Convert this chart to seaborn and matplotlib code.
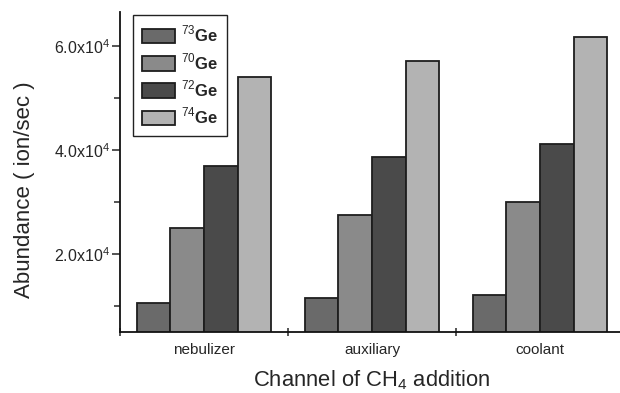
import matplotlib
matplotlib.use("Agg")
import matplotlib.pyplot as plt
import seaborn as sns
import pandas as pd
from matplotlib.ticker import FixedLocator, NullFormatter

channels = ["nebulizer", "auxiliary", "coolant"]
isotopes = ["73Ge", "70Ge", "72Ge", "74Ge"]
iso_labels = [r"$^{\mathregular{73}}\mathbf{Ge}$", r"$^{\mathregular{70}}\mathbf{Ge}$",
              r"$^{\mathregular{72}}\mathbf{Ge}$", r"$^{\mathregular{74}}\mathbf{Ge}$"]
ge73 = [10600, 11600, 12200]
ge70 = [24900, 27500, 29900]
ge72 = [36900, 38700, 41100]
ge74 = [54000, 57100, 61600]
colors = ["#6a6a6a", "#8a8a8a", "#4a4a4a", "#b3b3b3"]
ytick_vals = [20000, 40000, 60000]
ytick_labels = [r"2.0x10$^{\mathregular{4}}$", r"4.0x10$^{\mathregular{4}}$", r"6.0x10$^{\mathregular{4}}$"]

rows = []
for iso, vals in zip(isotopes, [ge73, ge70, ge72, ge74]):
    for ch, v in zip(channels, vals):
        rows.append({"channel": ch, "isotope": iso, "abundance": v})
df = pd.DataFrame(rows)

sns.set_theme(style="ticks")
plt.rcParams["font.family"] = ["Liberation Sans", "DejaVu Sans"]
plt.rcParams["mathtext.fontset"] = "custom"
plt.rcParams["mathtext.rm"] = "Liberation Sans"
plt.rcParams["mathtext.bf"] = "Liberation Sans:bold"

fig = plt.figure(figsize=(6.2, 3.93), dpi=100)
ax = fig.add_axes([120/620, (393-332)/393, 504/620, 320/393])

sns.barplot(data=df, x="channel", y="abundance", hue="isotope",
            hue_order=isotopes, order=channels,
            palette=colors, edgecolor="#1e1e1e", linewidth=1.3,
            saturation=1, ax=ax, width=0.8)

ax.set_xlim(-0.5, 2.5)
ax.set_ylim(5000, 66500)
sns.despine(ax=ax, top=True, right=True)
for s in ["left", "bottom"]:
    ax.spines[s].set_linewidth(1.3)
    ax.spines[s].set_color("#111111")

ax.set_yticks(ytick_vals)
ax.set_yticklabels(ytick_labels, fontsize=11.5)
ax.yaxis.set_minor_locator(FixedLocator([10000, 30000, 50000]))
ax.tick_params(axis="y", which="major", length=6, width=1.1, direction="out", pad=1.5)
ax.tick_params(axis="y", which="minor", length=4, width=1.1, direction="out")

ax.set_xticks([0, 1, 2])
ax.set_xticklabels(channels, fontsize=11)
ax.tick_params(axis="x", which="major", length=0, pad=8)
ax.xaxis.set_minor_locator(FixedLocator([-0.5, 0.5, 1.5, 2.5]))
ax.xaxis.set_minor_formatter(NullFormatter())
ax.tick_params(axis="x", which="minor", length=6, width=1.1, direction="inout")

ax.set_xlabel(r"Channel of CH$_{\mathregular{4}}$ addition", fontsize=15.8, va="center")
ax.xaxis.set_label_coords(0.5, -0.15)
ax.set_ylabel("Abundance ( ion/sec )", fontsize=16, va="center")
ax.yaxis.set_label_coords(-0.19, 0.445)

handles, _ = ax.get_legend_handles_labels()
leg = ax.legend(handles, iso_labels, loc="upper left",
                bbox_to_anchor=(0.0264, 0.9906), borderaxespad=0,
                frameon=True, fancybox=False,
                edgecolor="#222222", framealpha=1,
                prop={"size": 12},
                handlelength=1.95, handleheight=0.96, labelspacing=0.4,
                borderpad=0.55, handletextpad=0.35)
leg.get_frame().set_linewidth(1.0)

fig.savefig("out.png", dpi=100)
